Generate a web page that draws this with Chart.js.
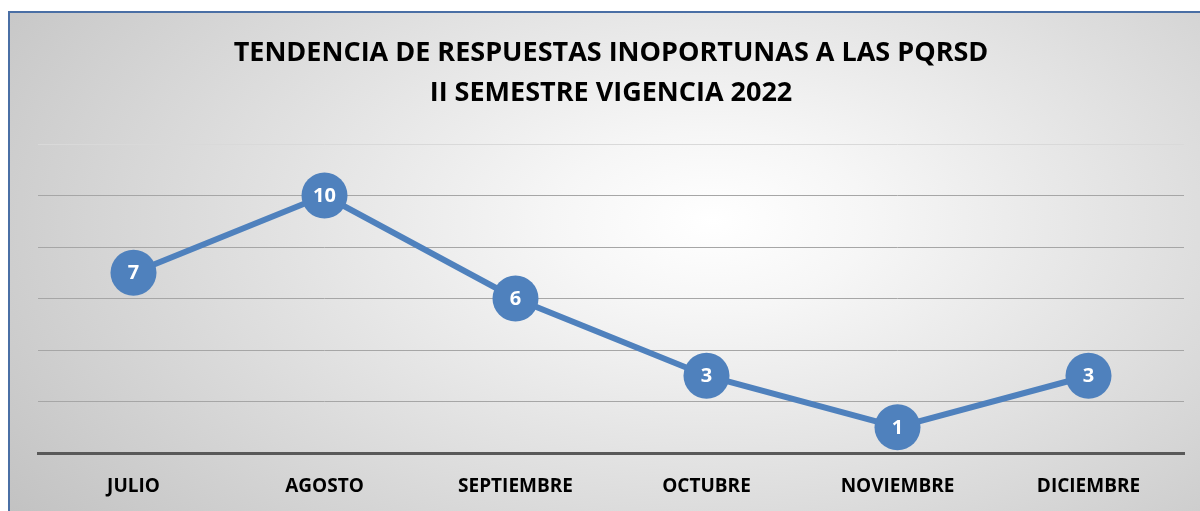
<!DOCTYPE html>
<html>
<head>
<meta charset="utf-8">
<script src="https://cdn.jsdelivr.net/npm/chart.js@4"></script>
<style>
    html, body { margin: 0; padding: 0; background: #fff; }
    #wrap { position: relative; width: 1200px; height: 511px; overflow: hidden; }
    #frame {
        position: absolute; left: 8px; top: 11px; width: 1210px; height: 520px;
        border: 2px solid #4a6fa5;
        background: radial-gradient(ellipse 72% 95% at 58% 40%, #ffffff 0%, #f6f6f6 18%, #c2c2c2 100%);
    }
    #chart { position: absolute; left: 0; top: 0; }
</style>
</head>
<body>
<div id="wrap">
    <div id="frame"></div>
    <canvas id="chart" width="1200" height="511"></canvas>
</div>
<script>
// Data
const months = ["JULIO", "AGOSTO", "SEPTIEMBRE", "OCTUBRE", "NOVIEMBRE", "DICIEMBRE"];
const lateAnswers = [7, 10, 6, 3, 1, 3];
const titleLines = ["TENDENCIA DE RESPUESTAS INOPORTUNAS A LAS PQRSD", "II SEMESTRE VIGENCIA 2022"];

const FONT = "'Open Sans', 'DejaVu Sans', sans-serif";

// white numbers inside the markers
const pointLabels = {
    id: "pointLabels",
    afterDatasetsDraw(chart) {
        const ctx = chart.ctx;
        const meta = chart.getDatasetMeta(0);
        ctx.save();
        ctx.fillStyle = "#ffffff";
        ctx.font = "bold 20px " + FONT;
        ctx.textAlign = "center";
        ctx.textBaseline = "middle";
        meta.data.forEach((pt, i) => {
            ctx.fillText(chart.data.datasets[0].data[i], pt.x, pt.y + 1);
        });
        ctx.restore();
    }
};

new Chart(document.getElementById("chart"), {
    type: "line",
    data: {
        labels: months,
        datasets: [{
            data: lateAnswers,
            borderColor: "#4f81bd",
            backgroundColor: "#4f81bd",
            borderWidth: 6,
            pointRadius: 23,
            pointHoverRadius: 23,
            pointBorderWidth: 0,
            tension: 0,
            fill: false,
            clip: false
        }]
    },
    options: {
        responsive: false,
        animation: false,
        layout: { autoPadding: false, padding: { left: 38, right: 16, top: 0, bottom: 8 } },
        plugins: {
            legend: { display: false },
            tooltip: { enabled: false },
            title: {
                display: true,
                text: titleLines,
                color: "#000000",
                font: { family: FONT, size: 27, weight: "bold", lineHeight: "40px" },
                padding: { top: 33, bottom: 31 }
            }
        },
        scales: {
            x: {
                offset: true,
                afterFit: s => { s.height = 50; },
                grid: { display: false, drawTicks: false },
                border: { display: true, color: "#595959", width: 3 },
                ticks: {
                    color: "#000000",
                    padding: 22,
                    font: { family: FONT, size: 19, weight: "bold" }
                }
            },
            y: {
                min: 0,
                max: 12,
                afterFit: s => { s.width = 0; },
                ticks: { display: false, stepSize: 2 },
                border: { display: false },
                grid: {
                    drawTicks: false,
                    lineWidth: 1,
                    color: c => c.tick.value === 0 ? "rgba(0,0,0,0)" : (c.tick.value === 12 ? "#d9d9d9" : "#a6a6a6")
                }
            }
        }
    },
    plugins: [pointLabels]
});
</script>
</body>
</html>
